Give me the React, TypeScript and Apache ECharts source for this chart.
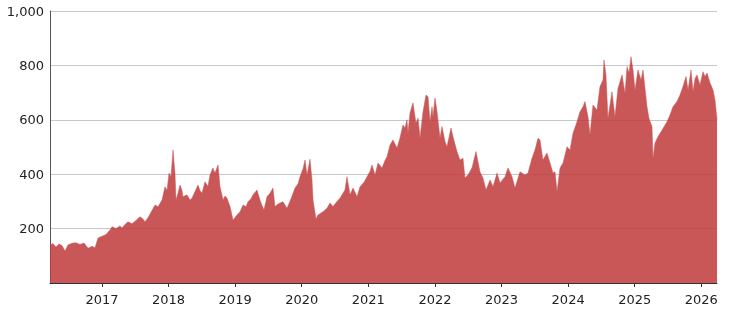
import React, { useEffect, useRef } from "react";
import * as echarts from "echarts";

// decimal years
const dates: number[] = [
  2016.22, 2016.265, 2016.31, 2016.355, 2016.4, 2016.445, 2016.49, 2016.55, 2016.61, 2016.67,
  2016.731, 2016.791, 2016.851, 2016.896, 2016.941, 2017.001, 2017.061, 2017.121, 2017.151, 2017.211,
  2017.271, 2017.301, 2017.346, 2017.391, 2017.451, 2017.511, 2017.571, 2017.616, 2017.646, 2017.691,
  2017.737, 2017.797, 2017.842, 2017.902, 2017.947, 2017.977, 2018.007, 2018.037, 2018.067, 2018.097,
  2018.112, 2018.142, 2018.172, 2018.202, 2018.217, 2018.277, 2018.322, 2018.352, 2018.397, 2018.442,
  2018.472, 2018.502, 2018.547, 2018.592, 2018.622, 2018.667, 2018.697, 2018.743, 2018.773, 2018.818,
  2018.848, 2018.878, 2018.923, 2018.968, 2019.028, 2019.073, 2019.118, 2019.163, 2019.193, 2019.238,
  2019.268, 2019.328, 2019.373, 2019.403, 2019.433, 2019.478, 2019.523, 2019.568, 2019.598, 2019.643,
  2019.673, 2019.718, 2019.779, 2019.839, 2019.899, 2019.944, 2019.974, 2020.019, 2020.049, 2020.079,
  2020.124, 2020.154, 2020.169, 2020.214, 2020.244, 2020.319, 2020.379, 2020.424, 2020.469, 2020.529,
  2020.574, 2020.619, 2020.649, 2020.679, 2020.725, 2020.77, 2020.83, 2020.875, 2020.935, 2020.98,
  2021.025, 2021.055, 2021.1, 2021.145, 2021.205, 2021.25, 2021.28, 2021.325, 2021.37, 2021.43,
  2021.475, 2021.52, 2021.55, 2021.58, 2021.595, 2021.625, 2021.67, 2021.715, 2021.746, 2021.776,
  2021.821, 2021.866, 2021.896, 2021.926, 2021.956, 2021.971, 2022.001, 2022.031, 2022.076, 2022.106,
  2022.151, 2022.181, 2022.241, 2022.271, 2022.331, 2022.376, 2022.421, 2022.451, 2022.496, 2022.556,
  2022.616, 2022.676, 2022.721, 2022.767, 2022.827, 2022.872, 2022.932, 2022.977, 2023.052, 2023.097,
  2023.157, 2023.202, 2023.277, 2023.352, 2023.397, 2023.457, 2023.502, 2023.547, 2023.577, 2023.622,
  2023.682, 2023.728, 2023.773, 2023.803, 2023.833, 2023.878, 2023.923, 2023.983, 2024.028, 2024.073,
  2024.133, 2024.178, 2024.223, 2024.253, 2024.298, 2024.328, 2024.373, 2024.433, 2024.478, 2024.523,
  2024.538, 2024.568, 2024.598, 2024.658, 2024.703, 2024.749, 2024.809, 2024.854, 2024.884, 2024.914,
  2024.944, 2024.974, 2025.004, 2025.049, 2025.094, 2025.124, 2025.184, 2025.214, 2025.259, 2025.274,
  2025.304, 2025.349, 2025.409, 2025.484, 2025.529, 2025.574, 2025.634, 2025.679, 2025.724, 2025.77,
  2025.8, 2025.845, 2025.875, 2025.905, 2025.935, 2025.98, 2026.025, 2026.055, 2026.085, 2026.13,
  2026.175, 2026.205, 2026.235,
];

const values: number[] = [
  140, 145, 132, 143, 138, 118, 140, 146, 148, 142,
  147, 128, 135, 130, 165, 172, 178, 195, 207, 200,
  210, 202, 215, 225, 218, 230, 244, 235, 225, 240,
  260, 287, 280, 305, 354, 340, 404, 391, 489, 400,
  305, 330, 360, 340, 317, 324, 305, 312, 336, 360,
  340, 330, 372, 355, 397, 423, 404, 434, 354, 305,
  320, 312, 281, 232, 250, 262, 287, 280, 299, 310,
  324, 342, 305, 285, 268, 317, 330, 349, 281, 290,
  294, 299, 275, 310, 349, 365, 391, 420, 452, 397,
  455, 379, 305, 235, 250, 262, 275, 294, 281, 300,
  312, 330, 342, 391, 324, 349, 317, 354, 370, 391,
  410, 434, 397, 441, 423, 450, 464, 507, 526, 496,
  533, 581, 570, 600, 551, 625, 662, 588, 606, 533,
  630, 691, 685, 593, 648, 611, 680, 630, 533, 575,
  520, 501, 570, 538, 483, 452, 459, 386, 397, 423,
  483, 409, 386, 342, 379, 354, 404, 368, 391, 423,
  391, 349, 409, 397, 404, 459, 489, 532, 526, 452,
  478, 441, 404, 409, 336, 423, 441, 501, 489, 551,
  593, 630, 648, 667, 611, 544, 654, 636, 722, 746,
  820, 765, 605, 703, 611, 716, 765, 697, 795, 772,
  832, 783, 710, 783, 746, 783, 648, 605, 575, 458,
  515, 538, 562, 593, 618, 648, 667, 691, 722, 759,
  710, 783, 703, 752, 765, 728, 777, 759, 772, 736,
  710, 673, 600,
];

const yearTicks: number[] = [2017, 2018, 2019, 2020, 2021, 2022, 2023, 2024, 2025, 2026];
const yTicks = { min: 0, max: 1000, interval: 200 };

export default function App() {
  const ref = useRef<HTMLDivElement>(null);
  useEffect(() => {
    if (!ref.current) return;
    const chart = echarts.init(ref.current, undefined, { renderer: "svg" });
    const font = "DejaVu Sans, Verdana, sans-serif";
    chart.setOption({
      animation: false,
      grid: { left: 50, right: 12, top: 11, bottom: 31, containLabel: false },
      xAxis: {
        type: "value",
        min: dates[0],
        max: dates[dates.length - 1],
        splitLine: { show: false },
        axisLine: { show: true, lineStyle: { color: "#333", width: 1 } },
        axisTick: {
          show: true,
          customValues: yearTicks,
          length: 4,
          lineStyle: { color: "#333" },
        },
        axisLabel: {
          customValues: yearTicks,
          formatter: (v: number) => String(Math.round(v)),
          color: "#222",
          fontSize: 13,
          fontFamily: font,
          margin: 10,
        },
      },
      yAxis: {
        type: "value",
        min: yTicks.min,
        max: yTicks.max,
        interval: yTicks.interval,
        axisLine: { show: true, lineStyle: { color: "#555", width: 1 } },
        axisTick: { show: false },
        splitLine: { show: true, lineStyle: { color: "#c8c8c8", width: 1 } },
        axisLabel: {
          showMinLabel: false,
          color: "#222",
          fontSize: 13,
          fontFamily: font,
          margin: 6,
          formatter: (v: number) => v.toLocaleString("en-US"),
        },
      },
      series: [
        {
          type: "line",
          data: dates.map((d, i) => [d, values[i]]),
          showSymbol: false,
          symbol: "none",
          lineStyle: { width: 0.5, color: "#c95454" },
          areaStyle: { color: "#c03a3a", opacity: 0.85 },
          z: 1,
        },
      ],
    });
    return () => chart.dispose();
  }, []);
  return (
    <div
      ref={ref}
      style={{ position: "fixed", left: 0, top: 0, width: 729, height: 314 }}
    />
  );
}
